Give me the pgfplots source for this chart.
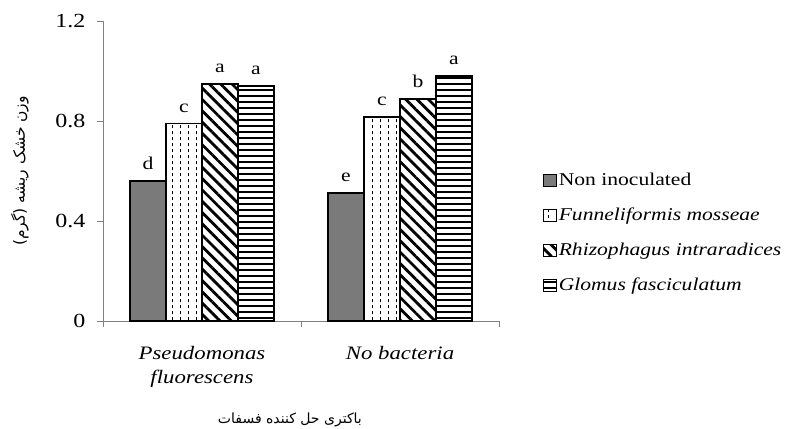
\documentclass[border=0pt]{standalone}
\usepackage{pgfplots}
\pgfplotsset{compat=1.18}
\usepackage{fontspec}
\setmainfont[FakeStretch=1.2]{Liberation Serif}
\newfontfamily\arabicfont[Script=Arabic]{DejaVu Sans}
\TeXXeTstate=1
\usetikzlibrary{patterns,patterns.meta}

\pgfdeclarepatternformonly{vdashes}{\pgfqpoint{-0.5bp}{-0.5bp}}{\pgfqpoint{8.5bp}{6.5bp}}{\pgfqpoint{8bp}{6bp}}{%
  \pgfsetlinewidth{0.8bp}%
  \pgfpathmoveto{\pgfqpoint{4bp}{0.5bp}}%
  \pgfpathlineto{\pgfqpoint{4bp}{4bp}}%
  \pgfusepathqstroke}
\pgfdeclarepatternformonly{hlines}{\pgfqpoint{-1bp}{-1bp}}{\pgfqpoint{7bp}{7bp}}{\pgfqpoint{6bp}{6bp}}{%
  \pgfsetlinewidth{1.3bp}%
  \pgfpathmoveto{\pgfqpoint{-1bp}{3bp}}%
  \pgfpathlineto{\pgfqpoint{7bp}{3bp}}%
  \pgfusepathqstroke}

\pgfplotsset{sqleg/.style={legend image code/.code={\draw[##1,line width=1bp] (0bp,-6bp) rectangle (13bp,6bp);}}}

\begin{document}
\begin{tikzpicture}
\useasboundingbox (-103bp,-108bp) rectangle (694bp,321bp);
\begin{axis}[
  at={(0,0)}, anchor=south west,
  scale only axis, width=396bp, height=300bp,
  ybar=0pt, bar width=36bp,
  xmin=-0.5, xmax=1.5, ymin=0, ymax=1.2,
  xtick={0,1},
  xticklabels={{\textit{Pseudomonas}\\\textit{fluorescens}},{\textit{No bacteria}}},
  minor xtick={-0.5,0.5,1.5},
  ytick={0,0.4,0.8,1.2},
  axis x line*=bottom, axis y line*=left,
  axis line style={black!50, line width=0.8bp},
  tick align=outside,
  major tick length=6bp, minor tick length=6bp,
  major x tick style={draw=none},
  minor x tick style={black!50, line width=0.8bp},
  y tick style={black!50, line width=0.8bp},
  /pgf/number format/assume math mode=true,
  yticklabel style={font=\fontsize{20bp}{24bp}\selectfont, xshift=-8bp},
  xticklabel style={font=\fontsize{19bp}{24bp}\selectfont, align=center, yshift=-16bp},
  ylabel={\arabicfont\fontsize{15.5bp}{18bp}\selectfont\beginR وزن خشک ریشه (گرم)\endR},
  ylabel style={at={(axis description cs:-0.21,0.5)}, anchor=center},
  xlabel={\arabicfont\fontsize{14bp}{17bp}\selectfont\beginR باکتری حل کننده فسفات\endR},
  xlabel style={at={(axis description cs:0.472,-0.33)}, anchor=center},
  point meta=explicit symbolic,
  nodes near coords={\pgfplotspointmeta},
  every node near coord/.append style={black, font=\fontsize{18bp}{21bp}\selectfont, yshift=7bp},
  legend style={at={(rel axis cs:1.11,0.50)}, anchor=north west, draw=none, fill=none,
    font=\fontsize{18bp}{21bp}\selectfont, row sep=17bp, inner sep=0pt, cells={anchor=west}},
  legend cell align=left,
]
\addplot[sqleg, draw=black, line width=1.6bp, fill=black!52] coordinates {(0,0.561) [d] (1,0.511) [e]};
\addplot[sqleg, draw=black, line width=1.6bp, pattern=vdashes] coordinates {(0,0.790) [c] (1,0.817) [c]};
\addplot[sqleg, draw=black, line width=1.6bp, pattern={Lines[angle=-45,distance=8bp,line width=2.8bp]}] coordinates {(0,0.948) [a] (1,0.888) [b]};
\addplot[sqleg, draw=black, line width=1.6bp, pattern=hlines] coordinates {(0,0.940) [a] (1,0.979) [a]};
\legend{Non inoculated,\textit{Funneliformis mosseae},\textit{Rhizophagus intraradices},\textit{Glomus fasciculatum}}
\end{axis}
\end{tikzpicture}
\end{document}
